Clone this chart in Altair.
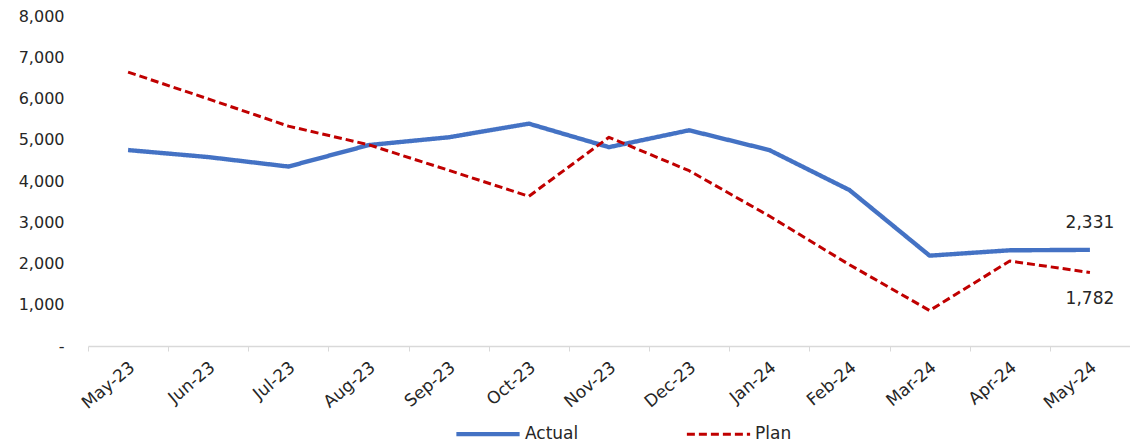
import altair as alt
import pandas as pd

# Monthly volumes, actual vs plan
months = ["May-23", "Jun-23", "Jul-23", "Aug-23", "Sep-23", "Oct-23", "Nov-23",
          "Dec-23", "Jan-24", "Feb-24", "Mar-24", "Apr-24", "May-24"]
actual = [4750, 4580, 4350, 4870, 5060, 5390, 4820, 5230, 4750, 3780, 2190, 2320, 2331]
plan = [6640, 5990, 5330, 4880, 4260, 3630, 5060, 4250, 3150, 1970, 860, 2060, 1782]
series_names = ["Actual", "Plan"]
y_ticks = [0, 1000, 2000, 3000, 4000, 5000, 6000, 7000, 8000]

rows = []
for name, vals in zip(series_names, [actual, plan]):
    for m, v in zip(months, vals):
        rows.append({"month": m, "series": name, "value": v})
df = pd.DataFrame(rows)

FONT = "DejaVu Sans"
FS = 17
TXT = "#262626"
AXIS_GREY = "#d9d9d9"

x_enc = alt.X(
    "month:N",
    sort=months,
    scale=alt.Scale(type="band", paddingInner=0, paddingOuter=0),
    axis=alt.Axis(
        title=None,
        labelAngle=-40,
        labelAlign="right",
        labelBaseline="middle",
        labelPadding=14,
        labelOffset=4,
        tickBand="extent",
        ticks=True,
        tickSize=5,
        tickColor=AXIS_GREY,
        domainColor=AXIS_GREY,
        domainWidth=1.5,
        grid=False,
        labelFont=FONT,
        labelFontSize=FS,
        labelColor=TXT,
    ),
)
y_enc = alt.Y(
    "value:Q",
    scale=alt.Scale(domain=[0, 8000], nice=False),
    axis=alt.Axis(
        title=None,
        values=y_ticks,
        labelExpr="datum.value == 0 ? '-\u00a0\u00a0\u00a0' : format(datum.value, ',')",
        domain=False,
        ticks=False,
        grid=False,
        labelPadding=24,
        labelFont=FONT,
        labelFontSize=16,
        labelColor=TXT,
    ),
)

legend_spec = dict(
    title=None,
    orient="none",
    legendX=366,
    legendY=384,
    direction="horizontal",
    symbolType="stroke",
    symbolSize=4000,
    symbolStrokeWidth=3.5,
    labelFont=FONT,
    labelFontSize=FS,
    labelColor=TXT,
    labelOffset=3,
    columnPadding=101,
    padding=0,
)

lines = alt.Chart(df).mark_line(strokeJoin="round", strokeCap="butt").encode(
    x=x_enc,
    y=y_enc,
    color=alt.Color(
        "series:N",
        scale=alt.Scale(domain=series_names, range=["#4472C4", "#C00000"]),
        legend=alt.Legend(**legend_spec),
    ),
    strokeDash=alt.StrokeDash(
        "series:N",
        scale=alt.Scale(domain=series_names, range=[[1, 0], [8, 4]]),
        legend=alt.Legend(**legend_spec),
    ),
    strokeWidth=alt.StrokeWidth(
        "series:N",
        scale=alt.Scale(domain=series_names, range=[4.4, 3]),
        legend=None,
    ),
)

base_text = alt.Chart(df).mark_text(font=FONT, fontSize=FS, color=TXT)

label_actual = base_text.transform_filter(
    "datum.month == 'May-24' && datum.series == 'Actual'"
).mark_text(font=FONT, fontSize=FS, color=TXT, dy=-27).encode(
    x=alt.X("month:N", sort=months), y="value:Q", text=alt.Text("value:Q", format=",")
)
label_plan = base_text.transform_filter(
    "datum.month == 'May-24' && datum.series == 'Plan'"
).mark_text(font=FONT, fontSize=FS, color=TXT, dy=27).encode(
    x=alt.X("month:N", sort=months), y="value:Q", text=alt.Text("value:Q", format=",")
)

chart = (
    alt.layer(lines, label_actual, label_plan)
    .properties(
        width=1042,
        height=330,
        autosize=alt.AutoSizeParams(type="none"),
        padding={"left": 88, "top": 16, "right": 0, "bottom": 100},
        background="white",
    )
    .configure_view(stroke=None)
)

chart.save("out.html", embed_options={"renderer": "svg", "actions": False})
